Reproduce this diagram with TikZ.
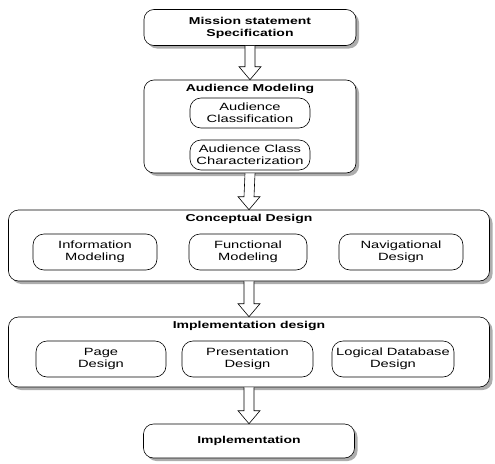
\documentclass[tikz,border=0pt]{standalone}
\usepackage{fontspec}
\setmainfont{Liberation Sans}[FakeStretch=1.4]
\usetikzlibrary{shadows, calc}

\begin{document}
\begin{tikzpicture}[x=1pt, y=-1pt,
        stage/.style={draw, rounded corners=10pt, fill=white, line width=0.6pt,
            drop shadow={shadow xshift=3pt, shadow yshift=-3pt, fill=gray!80, opacity=0.8}},
        task/.style={draw, rounded corners=11pt, fill=white, line width=0.6pt, align=center,
            inner sep=0pt, font=\fontsize{10.5}{12}\selectfont},
        title/.style={font=\fontsize{10}{12}\selectfont\bfseries, align=center, inner sep=0pt},
        flow/.style={draw, fill=white, line width=0.6pt, line join=miter}]
    \useasboundingbox (0,0) rectangle (495,463);

    % top and bottom stages
    \node[stage, title, minimum width=212pt, minimum height=36pt] at (250, 27.5) (mission) {Mission statement\\Specification};
    \node[stage, title, minimum width=211pt, minimum height=34pt] at (249, 441) (impl) {Implementation};

    % audience modeling
    \node[stage, minimum width=212pt, minimum height=93pt] at (250, 126.5) (audience) {};
    \node[title] at (250, 89) (audience_t) {Audience Modeling};
    \node[task, minimum width=120pt, minimum height=30pt] at (250, 113) (aud_class) {Audience\\Classification};
    \node[task, minimum width=120pt, minimum height=30pt] at (250, 155) (aud_char) {Audience Class\\Characterization};

    % conceptual design
    \node[stage, minimum width=481pt, minimum height=71pt] at (249, 245.5) (concept) {};
    \node[title] at (249, 219) (concept_t) {Conceptual Design};
    \node[task, minimum width=124pt, minimum height=36pt] at (95, 252) (info) {Information\\Modeling};
    \node[task, minimum width=118pt, minimum height=36pt] at (248, 252) (func) {Functional\\Modeling};
    \node[task, minimum width=124pt, minimum height=36pt] at (401, 252) (nav) {Navigational\\Design};

    % implementation design
    \node[stage, minimum width=481pt, minimum height=70pt] at (249, 352) (impldes) {};
    \node[title] at (249, 326) (impldes_t) {Implementation design};
    \node[task, minimum width=130pt, minimum height=36pt] at (101, 359) (page) {Page\\Design};
    \node[task, minimum width=131pt, minimum height=36pt] at (247.5, 359) (pres) {Presentation\\Design};
    \node[task, minimum width=122pt, minimum height=36pt] at (393, 359) (logdb) {Logical Database\\Design};

    % hollow block arrows
    \foreach \a/\b in {mission/audience, audience/concept, concept/impldes, impldes/impl}
        \draw[flow] ($(\a.south)+(-5,0)$) -- ($(\b.north)+(-5,-13)$) -- ($(\b.north)+(-11,-13)$)
            -- (\b.north) -- ($(\b.north)+(11,-13)$) -- ($(\b.north)+(5,-13)$) -- ($(\a.south)+(5,0)$);
\end{tikzpicture}
\end{document}
